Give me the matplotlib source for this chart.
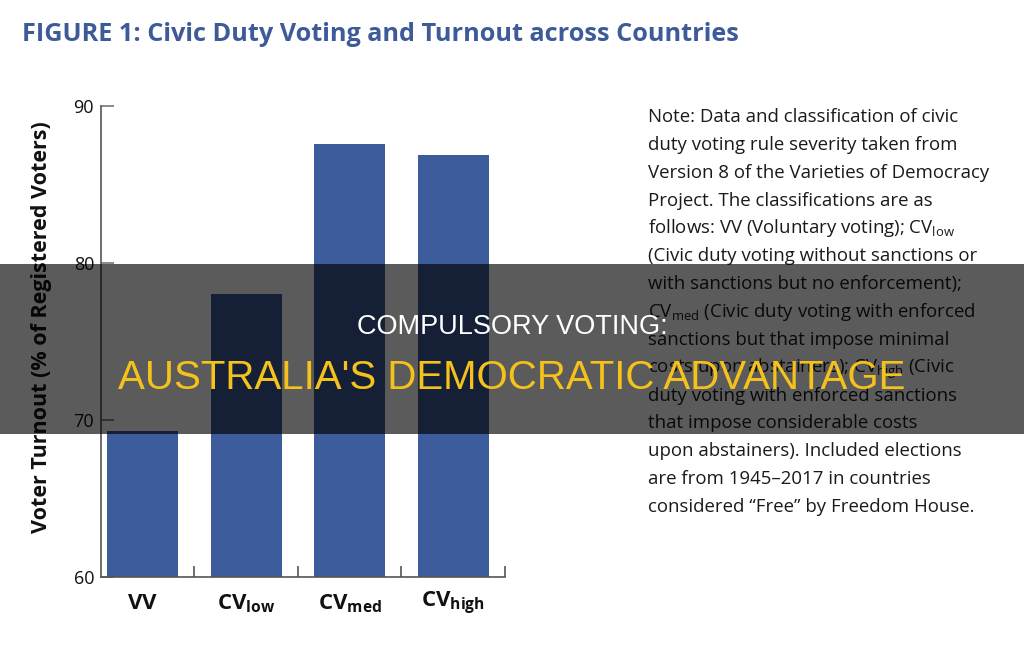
import matplotlib
matplotlib.use("Agg")
import matplotlib.pyplot as plt
from matplotlib.patches import Rectangle

categories = ["VV", "CV_low", "CV_med", "CV_high"]
turnout = [69.3, 78.0, 87.6, 86.9]
yticks = [60, 70, 80, 90]

title = "FIGURE 1: Civic Duty Voting and Turnout across Countries"
ylabel = "Voter Turnout (% of Registered Voters)"
note_lines = [
    "Note: Data and classification of civic",
    "duty voting rule severity taken from",
    "Version 8 of the Varieties of Democracy",
    "Project. The classifications are as",
    r"follows: VV (Voluntary voting); CV$_{\mathrm{low}}$",
    "(Civic duty voting without sanctions or",
    "with sanctions but no enforcement);",
    r"CV$_{\mathrm{med}}$ (Civic duty voting with enforced",
    "sanctions but that impose minimal",
    r"costs upon abstainers); CV$_{\mathrm{high}}$ (Civic",
    "duty voting with enforced sanctions",
    "that impose considerable costs",
    "upon abstainers). Included elections",
    "are from 1945\u20132017 in countries",
    "considered \u201cFree\u201d by Freedom House.",
]
banner_top = "COMPULSORY VOTING:"
banner_bottom = "AUSTRALIA'S DEMOCRATIC ADVANTAGE"

plt.rcParams['font.family'] = ['Open Sans', 'DejaVu Sans']
plt.rcParams['mathtext.fontset'] = 'custom'
plt.rcParams['mathtext.rm'] = 'Open Sans'
plt.rcParams['mathtext.bf'] = 'Open Sans:bold'

W, H = 1024, 657
fig = plt.figure(figsize=(W / 100, H / 100), dpi=100)
fig.patch.set_facecolor("white")

ax = fig.add_axes([101 / W, 1 - 577 / H, (505 - 101) / W, (577 - 106) / H])
x = list(range(len(categories)))
ax.bar(x, [v - 60 for v in turnout], bottom=60, width=0.685, color="#3d5c9c", zorder=2)
ax.set_ylim(60, 90)
ax.set_xlim(-0.4, 3.5)
ax.set_yticks(yticks)
ax.set_yticklabels([str(t) for t in yticks], fontsize=13, color="#111111")
ax.tick_params(axis='y', direction='in', length=9, width=1.2, color="#777777", pad=5)
ax.set_xticks([i + 0.5 for i in x])
ax.set_xticklabels([])
ax.tick_params(axis='x', direction='in', length=8, width=1.2, color="#555555")
for s in ["top", "right"]:
    ax.spines[s].set_visible(False)
for s in ["left", "bottom"]:
    ax.spines[s].set_color("#555555")
    ax.spines[s].set_linewidth(1.2)

def cat_label(c):
    if "_" in c:
        base, sub = c.split("_")
        return r"$\mathbf{%s}_{\mathbf{%s}}$" % (base, sub)
    return r"$\mathbf{%s}$" % c

for i, c in enumerate(categories):
    ax.text(i, 58.3, cat_label(c), ha='center', va='center', fontsize=16, color="#111111")

fig.text(42 / W, 1 - 327 / H, ylabel, rotation=90, ha='center', va='center',
         fontsize=15.5, fontweight='bold', color="#111111")

fig.text(22 / W, 1 - 41 / H, title, ha='left', va='baseline', fontsize=18.2,
         fontweight='bold', color="#3d5a99")

for k, line in enumerate(note_lines):
    fig.text(648 / W, 1 - (122 + 27.86 * k) / H, line, ha='left', va='baseline',
             fontsize=13.4, color="#1a1a1a")

fig.patches.append(Rectangle((0, 1 - 434 / H), 1, (434 - 264) / H, transform=fig.transFigure,
                             facecolor="black", alpha=0.645, edgecolor='none', zorder=10))
fig.text(0.5, 1 - 327 / H, banner_top, ha='center', va='center', fontsize=19.5,
         color="white", family=['Liberation Sans', 'DejaVu Sans'], zorder=11)
fig.text(0.5, 1 - 378 / H, banner_bottom, ha='center', va='center', fontsize=29,
         color="#f5c21b", family=['Liberation Sans', 'DejaVu Sans'], zorder=11)

fig.savefig("out.png", dpi=100)
